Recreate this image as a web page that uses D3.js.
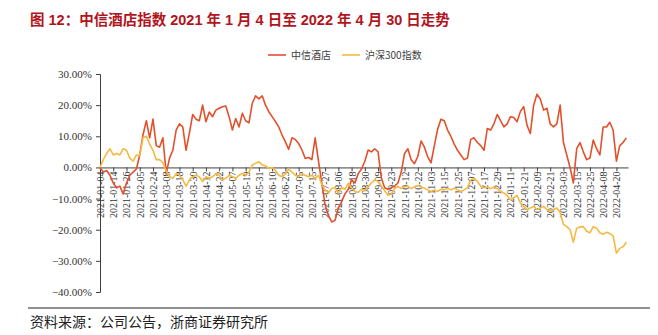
<!DOCTYPE html>
<html><head><meta charset="utf-8">
<script src="https://cdn.jsdelivr.net/npm/d3@7"></script>
<style>
html,body{margin:0;padding:0;background:#fff;}
svg{display:block;}
</style>
</head><body>
<svg id="chart" width="658" height="335"></svg>
<script>
// ---- data (values every 2 trading days, index 0 = 2021-01-04) ----
const titleText = "图 12：中信酒店指数 2021 年 1 月 4 日至 2022 年 4 月 30 日走势";
const sourceText = "资料来源：公司公告，浙商证券研究所";
const seriesNames = ["中信酒店", "沪深300指数"];
const totalTradingDays = 320;
const sampleStep = 2;
const tickEvery = 8;
const tickLabels = ["2021-01-04","2021-01-14","2021-01-26","2021-02-05","2021-02-24","2021-03-08","2021-03-18","2021-03-30","2021-04-12","2021-04-22","2021-05-07","2021-05-19","2021-05-31","2021-06-10","2021-06-23","2021-07-05","2021-07-15","2021-07-27","2021-08-06","2021-08-18","2021-08-30","2021-09-09","2021-09-23","2021-10-12","2021-10-22","2021-11-03","2021-11-15","2021-11-25","2021-12-07","2021-12-17","2021-12-29","2022-01-11","2022-01-21","2022-02-09","2022-02-21","2022-03-03","2022-03-15","2022-03-25","2022-04-08","2022-04-20"];
const yTicks = [30,20,10,0,-10,-20,-30,-40];
const hotelValues = [0,-1.5,-1,-2.5,-5,-6.5,-6,-8.5,-5,-2.5,-1.5,-0.5,4,10.5,15,9.5,15.5,7,6.5,9.5,
-2,3,5.5,12,14,13,5.5,11,17,15.5,15,20,14.7,17.8,16.3,18.4,19,19.5,19.7,16.3,
12,15.7,13,17.4,15,14.3,20.6,23,22,23,20,17.9,16.3,14.7,13,10.4,8.2,5.8,9.5,9,
7.7,5.6,2.9,3.2,2.5,9.5,2,-5,-12,-15.5,-17.5,-17,-13,-11,-8.5,-7,-4,-5,-2,-0.5,
2,5.6,5,6,5,-3.5,-6.5,-7,-6.5,-6,-5,-1.5,4.5,6,2.5,1.2,3.5,8.5,6.5,3.4,
1.5,7,12.3,15.5,15,12,10,7.5,5.5,4,2.5,3,9,9.5,8,7,5.5,12.5,12,14,
17,15,13,14,16.3,16,14.7,18,19.5,13.5,10.9,20,23.5,22,18.4,19,14,13,14,20,
8,4,0,-5,6,8,5,2.5,3,8.8,6,4,13,13,14.5,12,2,7,8,9.5];
const hs300Values = [0,2.5,4.5,6,4,4.5,4,6,5.5,3,2,4,3.8,9.5,10,7.5,5.5,2.5,2.5,1.5,
-1.2,-3,-3.5,-2,-2.5,-4,-6,-4,-3,-2.5,-3,-4.5,-3,-3.5,-3,-2,-2.5,-4,-3.5,-2.5,
-3,-3.5,-2.5,-1.9,-2.5,-1.5,0.8,1.3,1.8,0.8,0.5,-0.3,0,-1,-2.5,-3,-2.1,-0.6,-1.5,-2.5,
-3,-2,-2.5,-3,-2.5,-3.5,-2.5,-5.5,-7.2,-8.2,-6.7,-6.5,-8.2,-6.5,-7,-5.1,-6.5,-7.7,-8,-7,
-7.5,-6.1,-5,-4,-4.5,-6,-7.5,-8.9,-8.5,-6.8,-6.1,-6.8,-6.2,-6,-6.8,-6.2,-5.8,-6.3,-6.7,-7.2,
-7.7,-7.2,-7.7,-7,-7.2,-6.7,-7.2,-6.7,-7.2,-7.7,-7.2,-6.5,-4,-3.5,-4.5,-6,-6.5,-6.3,-6.8,-6.3,
-6.8,-7.7,-8.2,-9,-10.4,-9.7,-9,-11.5,-12.5,-13.6,-13,-12.5,-13.5,-13,-12.5,-13.5,-14.1,-13.5,-13,-14.5,
-18.3,-19,-20,-24,-19.5,-19.1,-19,-20.5,-21,-19,-19.5,-21,-21.5,-20.8,-21.2,-22,-27.5,-26,-25.5,-24];

// ---- drawing ----
const svg = d3.select("#chart");
const colors = ["#E2502C", "#F5B942"];
const x = d3.scaleLinear().domain([0, totalTradingDays - 1]).range([100, 628]);
const y = d3.scaleLinear().domain([-40, 30]).range([292, 74]);

// title
svg.append("text").attr("x", 30).attr("y", 25)
  .attr("font-family", "'Liberation Sans','Noto Sans CJK SC',sans-serif")
  .attr("font-weight", "bold").attr("font-size", 14.5).attr("fill", "#B2141C")
  .text(titleText);

// y axis
const yAxis = d3.axisLeft(y).tickValues(yTicks).tickSize(4)
  .tickFormat(d => d3.format(".2f")(d) + "%");
const gy = svg.append("g").attr("transform", "translate(100,0)").call(yAxis);
gy.select(".domain").attr("stroke", "#404040");
gy.selectAll(".tick line").attr("stroke", "#404040");
gy.selectAll(".tick text").attr("font-family", "'Liberation Serif','Times New Roman',serif")
  .attr("font-size", 11).attr("fill", "#333").attr("x", -8);

// x axis at zero
const tickIdx = tickLabels.map((d, i) => i * tickEvery);
const xAxis = d3.axisBottom(x).tickValues(tickIdx).tickSize(4).tickSizeOuter(0)
  .tickFormat((d, i) => tickLabels[i]);
const gx = svg.append("g").attr("transform", `translate(0,${y(0)})`).call(xAxis);
gx.select(".domain").attr("stroke", "#404040");
gx.selectAll(".tick line").attr("stroke", "#404040");
gx.selectAll(".tick text")
  .attr("font-family", "'Liberation Serif','Times New Roman',serif")
  .attr("font-size", 10).attr("fill", "#333")
  .attr("text-anchor", "end").attr("transform", "rotate(-90)")
  .attr("x", -4).attr("y", 0).attr("dy", "0.35em");

// lines
const line = d3.line().x((d, i) => x(i * sampleStep)).y(d => y(d));
[hotelValues, hs300Values].forEach((vals, k) => {
  svg.append("path").datum(vals).attr("fill", "none")
    .attr("stroke", colors[k]).attr("stroke-width", 1.6)
    .attr("stroke-linejoin", "round").attr("d", line);
});
// redraw red on top? keep order: hotel first then hs300 (reference shows yellow over red in places)

// legend
const legendX = [268, 342];
seriesNames.forEach((name, k) => {
  svg.append("line").attr("x1", legendX[k]).attr("x2", legendX[k] + 18)
    .attr("y1", 55).attr("y2", 55).attr("stroke", colors[k]).attr("stroke-width", 1.6);
  svg.append("text").attr("x", legendX[k] + 23).attr("y", 58.5)
    .attr("font-family", "'Noto Sans CJK SC',sans-serif").attr("font-size", 10)
    .attr("fill", "#404040").text(name);
});

// footer
svg.append("line").attr("x1", 28).attr("x2", 650).attr("y1", 308).attr("y2", 308)
  .attr("stroke", "#222").attr("stroke-width", 1);
svg.append("text").attr("x", 30).attr("y", 327)
  .attr("font-family", "'Noto Sans CJK SC',sans-serif").attr("font-size", 14)
  .attr("fill", "#222").text(sourceText);
</script>
</body></html>
